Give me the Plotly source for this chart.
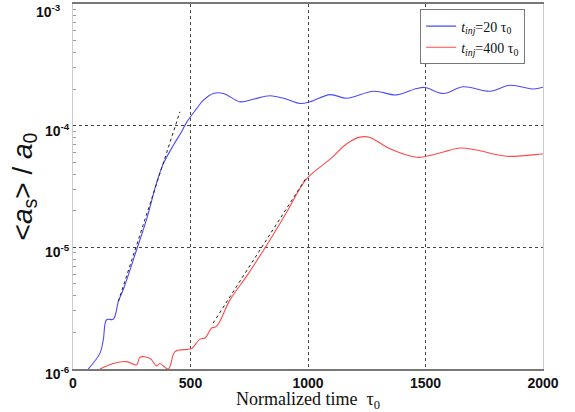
import plotly.graph_objects as go

# blue run: t_inj = 20 tau0
blue_t = [65, 115, 129, 143, 172, 193, 214, 271, 313, 356, 384, 427, 462, 484,
          526, 555, 597, 640, 711, 767, 838, 909, 966, 1009, 1094, 1165, 1279,
          1377, 1462, 1498, 1576, 1661, 1774, 1860, 1959, 2000]
blue_a = [1.0e-6, 1.35e-6, 1.74e-6, 2.54e-6, 2.57e-6, 3.6e-6, 4.5e-6, 9.6e-6,
          1.7e-5, 3.4e-5, 4.85e-5, 6.9e-5, 8.9e-5, 1.07e-4, 1.38e-4, 1.62e-4,
          1.84e-4, 1.84e-4, 1.57e-4, 1.65e-4, 1.76e-4, 1.65e-4, 1.52e-4,
          1.57e-4, 1.8e-4, 1.68e-4, 1.92e-4, 1.79e-4, 2.02e-4, 2.06e-4,
          1.84e-4, 2.09e-4, 1.92e-4, 2.15e-4, 2.0e-4, 2.07e-4]

# red run: t_inj = 400 tau0
red_t = [115, 172, 228, 271, 285, 328, 356, 370, 406, 434, 484, 505, 540, 562,
         590, 611, 668, 739, 824, 909, 994, 1094, 1165, 1221, 1264, 1306, 1349,
         1462, 1505, 1580, 1647, 1717, 1845, 1994, 2000]
red_a = [1.0e-6, 1.11e-6, 1.15e-6, 1.08e-6, 1.25e-6, 1.22e-6, 1.06e-6, 1.11e-6,
         1.0e-6, 1.39e-6, 1.45e-6, 1.47e-6, 1.76e-6, 1.8e-6, 2.17e-6, 2.24e-6,
         3.7e-6, 5.8e-6, 1.04e-5, 1.94e-5, 3.65e-5, 5.3e-5, 7.1e-5, 8.05e-5,
         8.0e-5, 7.2e-5, 6.45e-5, 5.5e-5, 5.6e-5, 6.1e-5, 6.55e-5, 6.3e-5,
         5.6e-5, 5.85e-5, 5.85e-5]

# exponential fits (dashed)
fit_blue_t = [193, 455]
fit_blue_a = [3.6e-6, 1.3e-4]
fit_red_t = [596, 994]
fit_red_a = [2.38e-6, 3.77e-5]

y_ticks = [1e-6, 1e-5, 1e-4]
y_labels = ["10<sup>-6</sup>", "10<sup>-5</sup>", "10<sup>-4</sup>"]
y_top_label = "10<sup>-3</sup>"
x_ticks = [0, 500, 1000, 1500, 2000]

fig = go.Figure()
fig.add_trace(go.Scatter(
    x=blue_t, y=blue_a, mode="lines", line_shape="spline",
    name="<i>t</i><sub><i>inj</i></sub>=20 τ<sub>0</sub>",
    line=dict(color="#4a4aff", width=1.1),
))
fig.add_trace(go.Scatter(
    x=red_t, y=red_a, mode="lines", line_shape="spline",
    name="<i>t</i><sub><i>inj</i></sub>=400 τ<sub>0</sub>",
    line=dict(color="#ff4a4a", width=1.1),
))
fig.add_trace(go.Scatter(
    x=fit_blue_t, y=fit_blue_a, mode="lines", showlegend=False,
    line=dict(color="#222222", width=1, dash="3px,3px"),
))
fig.add_trace(go.Scatter(
    x=fit_red_t, y=fit_red_a, mode="lines", showlegend=False,
    line=dict(color="#222222", width=1, dash="3px,3px"),
))

minor_vals = [k * 10.0 ** e for e in (-6, -5, -4) for k in range(2, 10)]

fig.update_layout(
    width=575, height=412,
    margin=dict(l=73, r=32, t=4, b=43),
    plot_bgcolor="white", paper_bgcolor="white",
    font=dict(family="Liberation Sans", color="#111111"),
    legend=dict(
        x=0.962, y=0.985, xanchor="right", yanchor="top",
        bordercolor="#777777", borderwidth=1, bgcolor="white",
        font=dict(family="Liberation Serif", size=14, color="#111111"),
        tracegroupgap=0, itemwidth=30,
    ),
    xaxis=dict(
        range=[0, 2000], tickvals=x_ticks,
        tickfont=dict(size=14, weight="bold"),
        showgrid=True, gridcolor="#444444", griddash="dot", gridwidth=1,
        showline=True, linecolor="#777777", linewidth=2, mirror=True,
        ticks="", zeroline=False, automargin=False,
    ),
    yaxis=dict(
        type="log", range=[-6, -3], tickvals=y_ticks, ticktext=y_labels,
        tickfont=dict(size=14, weight="bold"), ticklabelshift=5,
        showgrid=True, gridcolor="#444444", griddash="dot", gridwidth=1,
        showline=True, linecolor="#cccccc", linewidth=1, mirror=True,
        ticks="", zeroline=False, automargin=False,
        minor=dict(tickmode="array", tickvals=minor_vals, ticks="inside",
                   ticklen=3, tickcolor="#999999", showgrid=False),
        title=dict(text="&lt;<i>a</i><sub>s</sub>&gt; / <i>a</i><sub>0</sub>",
                   standoff=4, font=dict(size=28)),
    ),
)
# x title as annotation so it sits clear of the tick labels
fig.add_annotation(
    x=0.5, y=0, xref="paper", yref="paper", xanchor="center", yanchor="top",
    yshift=-18, text="Normalized time  τ<sub>0</sub>", showarrow=False,
    font=dict(family="Liberation Serif", size=18, color="#111111"),
)
# top decade label sits just below the frame, like the original
fig.add_annotation(
    x=0, y=1, xref="paper", yref="paper", xanchor="right", yanchor="top",
    xshift=-10, yshift=4, text=y_top_label, showarrow=False,
    font=dict(size=14, weight="bold", color="#111111"),
)

fig.write_html("out.html", config={"displayModeBar": False},
               post_script="document.body.style.margin='0';")
